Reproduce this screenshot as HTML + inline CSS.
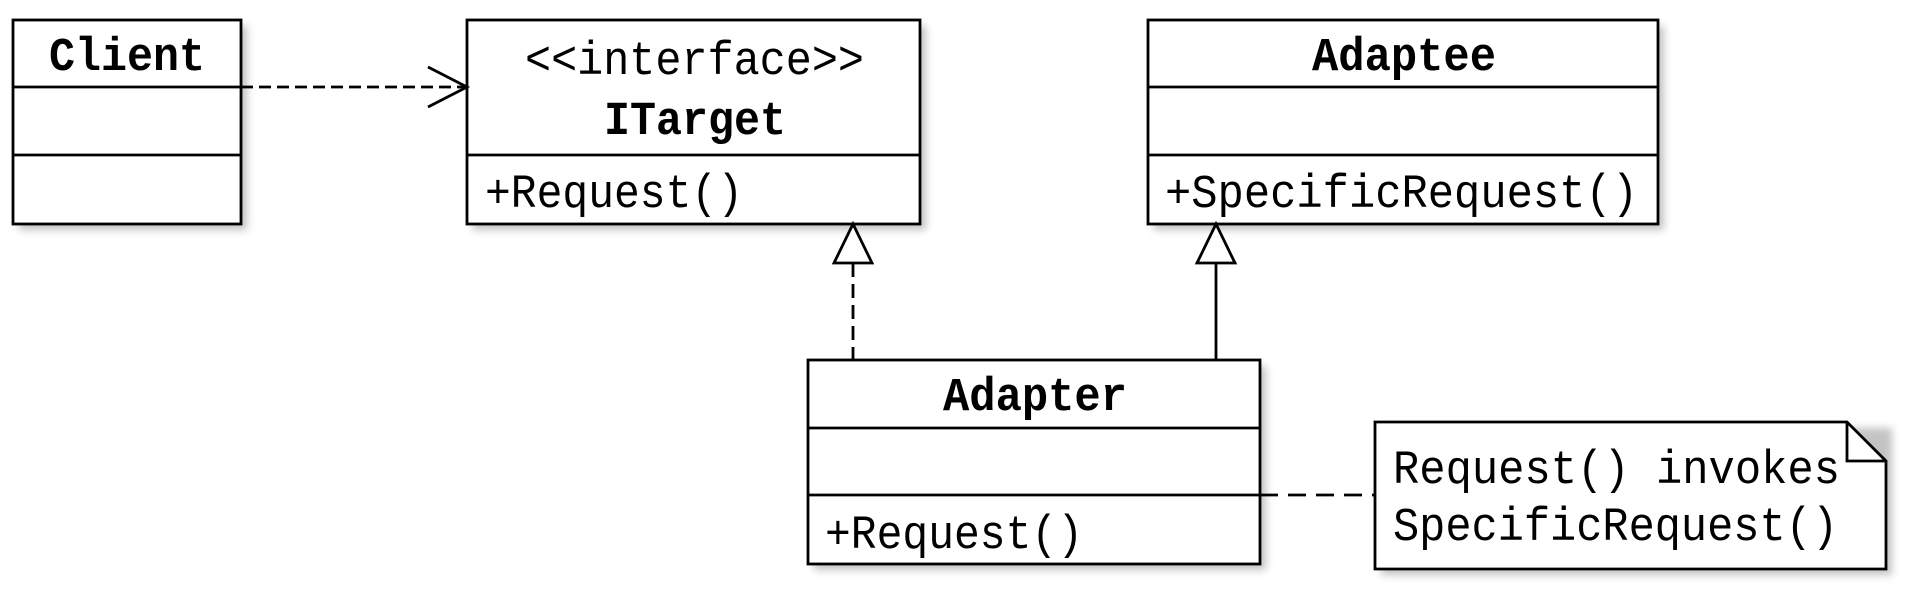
<!DOCTYPE html>
<html><head><meta charset="utf-8"><style>
html,body{margin:0;padding:0;background:#fff;}
svg{display:block;}
text{font-family:"Liberation Mono","DejaVu Sans Mono",monospace;font-size:47px;fill:#000;}
.b{font-weight:bold;}
</style></head><body>
<svg width="1916" height="600" viewBox="0 0 1916 600" xmlns="http://www.w3.org/2000/svg">
<defs>
<filter id="sh" x="-10%" y="-10%" width="130%" height="130%"><feGaussianBlur stdDeviation="4"/></filter>
</defs>
<g fill="#aaa" filter="url(#sh)" opacity="0.7">
<rect x="19" y="26" width="228" height="204"/>
<rect x="473" y="26" width="453" height="204"/>
<rect x="1154" y="26" width="510" height="204"/>
<rect x="814" y="366" width="452" height="204"/>
<rect x="1381" y="428" width="511" height="147"/>
</g>
<g fill="#fff" stroke="#000" stroke-width="2.8">
<rect x="13" y="20" width="228" height="204"/>
<line x1="13" y1="87" x2="241" y2="87"/><line x1="13" y1="155" x2="241" y2="155"/>
<rect x="467" y="20" width="453" height="204"/>
<line x1="467" y1="155" x2="920" y2="155"/>
<rect x="1148" y="20" width="510" height="204"/>
<line x1="1148" y1="87" x2="1658" y2="87"/><line x1="1148" y1="155" x2="1658" y2="155"/>
<rect x="808" y="360" width="452" height="204"/>
<line x1="808" y1="428" x2="1260" y2="428"/><line x1="808" y1="495" x2="1260" y2="495"/>
<path d="M1375 422 H1847 L1886 461 V569 H1375 Z"/>
<path d="M1847 422 V461 H1886" fill="none"/>
</g>
<g stroke="#000" stroke-width="2.8" fill="none">
<line x1="241" y1="87" x2="465" y2="87" stroke-dasharray="12 6"/>
<polyline points="428,67 467,87 428,107"/>
<line x1="853" y1="263" x2="853" y2="360" stroke-dasharray="14 7"/>
<polygon points="853,224 834,263 872,263" fill="#fff"/>
<line x1="1216" y1="263" x2="1216" y2="360"/>
<polygon points="1216,224 1197,263 1235,263" fill="#fff"/>
<line x1="1260" y1="495" x2="1375" y2="495" stroke-dasharray="18 10"/>
</g>
<text class="b" x="49" y="70" textLength="156" lengthAdjust="spacingAndGlyphs">Client</text>
<text x="525" y="74" textLength="339" lengthAdjust="spacingAndGlyphs">&lt;&lt;interface&gt;&gt;</text>
<text class="b" x="604" y="134" textLength="182" lengthAdjust="spacingAndGlyphs">ITarget</text>
<text x="485" y="207" textLength="258" lengthAdjust="spacingAndGlyphs">+Request()</text>
<text class="b" x="1312" y="70" textLength="184" lengthAdjust="spacingAndGlyphs">Adaptee</text>
<text x="1165" y="207" textLength="473" lengthAdjust="spacingAndGlyphs">+SpecificRequest()</text>
<text class="b" x="943" y="410" textLength="184" lengthAdjust="spacingAndGlyphs">Adapter</text>
<text x="825" y="548" textLength="258" lengthAdjust="spacingAndGlyphs">+Request()</text>
<text x="1393" y="483" textLength="447" lengthAdjust="spacingAndGlyphs">Request() invokes</text>
<text x="1393" y="540" textLength="445" lengthAdjust="spacingAndGlyphs">SpecificRequest()</text>
</svg>
</body></html>
